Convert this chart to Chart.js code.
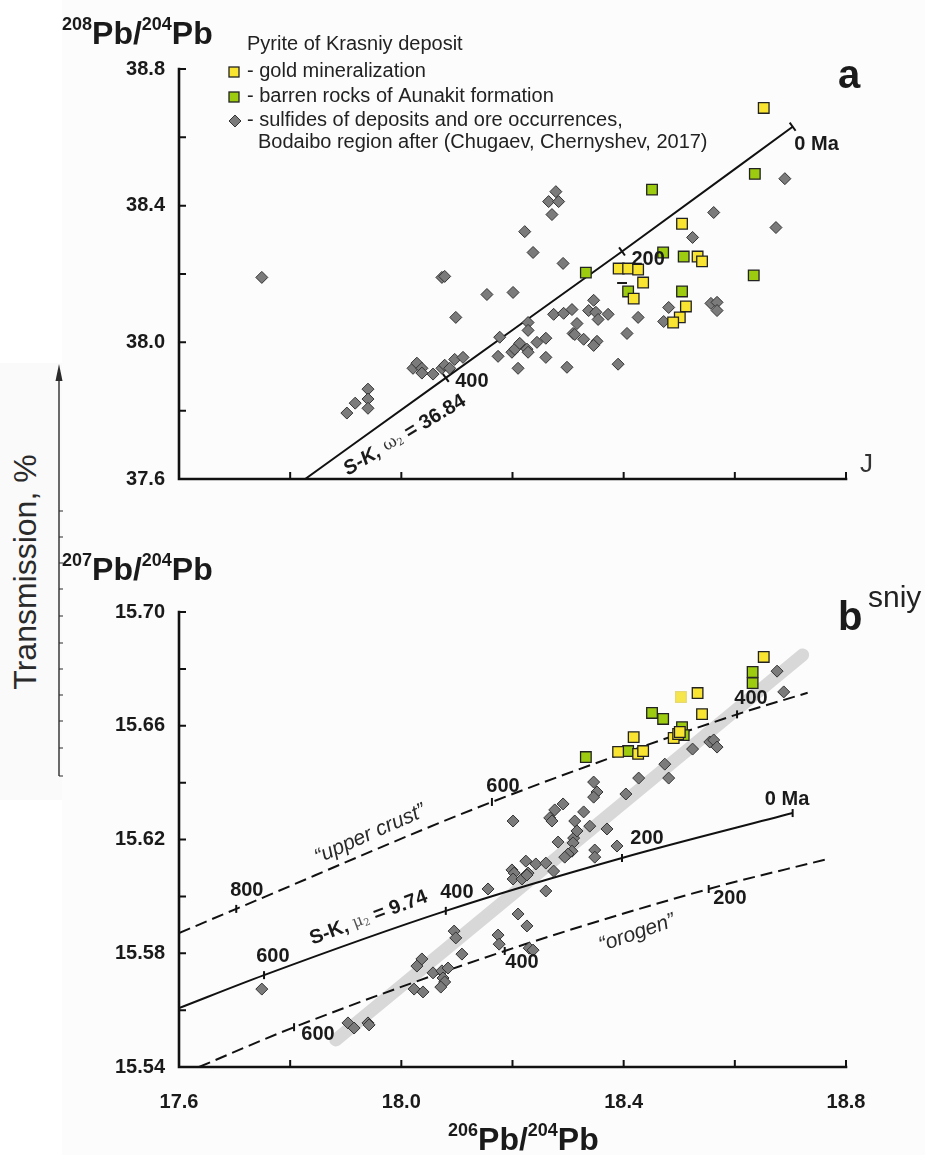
<!DOCTYPE html>
<html>
<head>
<meta charset="utf-8">
<script src="https://cdn.jsdelivr.net/npm/chart.js@4.4.1/dist/chart.umd.min.js"></script>
<style>
  body { margin: 0; background: #fff; }
  #page { position: relative; width: 925px; height: 1155px; overflow: hidden; }
  #panel { position: absolute; left: 62px; top: 0; width: 863px; height: 1155px; background: #fcfcfc; }
  #patch { position: absolute; left: 0; top: 363px; width: 62px; height: 437px; background: #fafafa; }
  canvas, svg { position: absolute; left: 0; top: 0; }
  #trans { position: absolute; left: 25px; top: 572px; font: 32px "Liberation Sans", Arial, sans-serif; color: #2a2a2a;
           white-space: nowrap; transform: translate(-50%, -50%) rotate(-90deg); }
</style>
</head>
<body>
<div id="page">
  <div id="panel"></div>
  <div id="patch"></div>
  <svg width="925" height="1155">
    <line x1="59" y1="378" x2="59" y2="776" stroke="#2b2b2b" stroke-width="1.4"/>
    <polygon points="59,364 55.5,381 62.5,381" fill="#2b2b2b"/>
    <path d="M59 511h4M59 537h4M59 563h4M59 589h4M59 616h4M59 643h4M59 669h4M59 695h4M59 721h4M59 748h4M59 776h4"
          stroke="#2b2b2b" stroke-width="1.2"/>
  </svg>
  <div id="trans">Transmission, %</div>
  <canvas id="top" width="925" height="1155"></canvas>
  <canvas id="bottom" width="925" height="1155"></canvas>
</div>
<script>
// ---- data: [206Pb/204Pb, 208Pb/204Pb] and [206Pb/204Pb, 207Pb/204Pb]
const topGold = [[18.652,38.686],[18.505,38.347],[18.533,38.251],[18.541,38.237],[18.391,38.216],[18.408,38.216],
  [18.426,38.213],[18.435,38.175],[18.418,38.128],[18.512,38.105],[18.501,38.073],[18.489,38.058]]
const topBarren = [[18.451,38.447],[18.636,38.493],[18.471,38.263],[18.508,38.251],[18.332,38.204],[18.408,38.149],
  [18.505,38.149],[18.634,38.196]]
const topSulfide = [[17.749,38.190],[17.902,37.793],[17.917,37.822],[17.940,37.863],[17.940,37.834],[17.940,37.807],
  [18.073,38.190],[18.078,38.193],[18.098,38.073],[18.154,38.140],[18.201,38.146],[18.222,38.324],[18.237,38.263],
  [18.265,38.412],[18.278,38.441],[18.283,38.412],[18.271,38.374],[18.291,38.231],[18.021,37.924],[18.028,37.939],
  [18.037,37.924],[18.037,37.910],[18.057,37.907],[18.073,37.924],[18.078,37.933],[18.087,37.924],[18.096,37.950],
  [18.111,37.956],[18.177,38.015],[18.174,37.959],[18.199,37.971],[18.204,37.980],[18.213,37.997],[18.226,37.980],
  [18.228,37.971],[18.210,37.924],[18.228,38.058],[18.228,38.035],[18.244,38.000],[18.260,38.012],[18.260,37.956],
  [18.274,38.082],[18.292,38.085],[18.307,38.096],[18.316,38.055],[18.309,38.026],[18.312,38.023],[18.298,37.927],
  [18.328,38.009],[18.346,38.123],[18.337,38.093],[18.350,38.088],[18.354,38.067],[18.352,38.003],[18.346,37.991],
  [18.372,38.082],[18.406,38.026],[18.390,37.936],[18.426,38.073],[18.562,38.380],[18.524,38.307],[18.690,38.479],
  [18.674,38.336],[18.557,38.114],[18.568,38.117],[18.568,38.093],[18.481,38.102],[18.472,38.061]]

const bottomGold = [[18.652,15.6842],[18.533,15.6715],[18.541,15.6641],[18.418,15.6560],[18.490,15.6557],
  [18.498,15.6571],[18.501,15.6578],[18.390,15.6508],[18.426,15.6501],[18.435,15.6511]]
const bottomGoldPale = [[18.503,15.6701]]
const bottomBarren = [[18.632,15.6789],[18.632,15.6750],[18.451,15.6645],[18.471,15.6624],[18.505,15.6595],
  [18.508,15.6567],[18.408,15.6511],[18.332,15.6490]]
const bottomSulfide = [[17.749,15.5674],[17.904,15.5555],[17.915,15.5537],[17.940,15.5555],[17.942,15.5548],
  [18.023,15.5674],[18.039,15.5664],[18.057,15.5731],[18.073,15.5738],[18.084,15.5748],[18.075,15.5713],
  [18.078,15.5699],[18.071,15.5681],[18.037,15.5780],[18.028,15.5755],[18.095,15.5878],[18.098,15.5854],
  [18.109,15.5797],[18.174,15.5864],[18.176,15.5832],[18.230,15.5818],[18.237,15.5811],[18.210,15.5938],
  [18.226,15.5896],[18.156,15.6026],[18.260,15.6019],[18.199,15.6093],[18.203,15.6082],[18.201,15.6061],
  [18.217,15.6061],[18.228,15.6082],[18.226,15.6075],[18.224,15.6124],[18.242,15.6114],[18.260,15.6117],
  [18.274,15.6089],[18.201,15.6265],[18.282,15.6191],[18.291,15.6325],[18.276,15.6304],[18.267,15.6276],
  [18.271,15.6265],[18.310,15.6205],[18.309,15.6188],[18.307,15.6159],[18.300,15.6149],[18.294,15.6138],
  [18.312,15.6265],[18.316,15.6230],[18.328,15.6297],[18.339,15.6247],[18.370,15.6237],[18.388,15.6177],
  [18.348,15.6163],[18.348,15.6138],[18.346,15.6402],[18.352,15.6367],[18.346,15.6349],[18.404,15.6360],
  [18.427,15.6416],[18.474,15.6465],[18.481,15.6416],[18.524,15.6518],[18.555,15.6543],[18.562,15.6550],
  [18.568,15.6525],[18.676,15.6792],[18.688,15.6719]]

// growth curves, read at the edge of the plot and at the marked ages
const skTop = [[17.827,37.600],[18.080,37.896],[18.397,38.266],[18.704,38.631]]      // edge, 400, 200, 0 Ma
const skBottom = [[17.600,15.5607],[17.753,15.5723],[18.080,15.5949],[18.397,15.6135],[18.704,15.6293]] // edge, 600, 400, 200, 0
const upperCrust = [[17.600,15.5871],[17.703,15.5956],[18.163,15.6332],[18.604,15.6640],[18.731,15.6716]] // edge, 800, 600, 400, end
const orogen = [[17.636,15.5400],[17.807,15.5540],[18.186,15.5808],[18.553,15.6026],[18.766,15.6131]]   // edge, 600, 400, 200, end
const trendBand = [[17.882,15.5495],[18.722,15.6849]]

const topAgeLabels = [['0 Ma',18.747,38.578],['200',18.444,38.242],['400',18.127,37.886],['\u2013',18.397,38.175]]
const bottomAgeLabels = [['0 Ma',18.694,15.6339],['200',18.442,15.6202],['400',18.100,15.6015],['600',17.769,15.5787],
  ['800',17.722,15.6019],['600',18.183,15.6388],['400',18.629,15.6697],
  ['400',18.217,15.5769],['200',18.591,15.5991],['600',17.850,15.5513]]

const FONT = '"Liberation Sans", Arial, sans-serif'
const B20 = 'bold 20px ' + FONT
const INK = '#1a1a1a'
const goldFill = '#f9e431', barrenFill = '#9ccb10', sulfFill = '#7b7b7b'

const pts = arr => arr.map(([x, y]) => ({ x, y }))

function txt(ctx, parts, x, y, o = {}) {
  ctx.save()
  let w = 0
  parts.forEach(p => { ctx.font = p.font; p.w = ctx.measureText(p.t).width; w += p.w })
  ctx.translate(x, y)
  ctx.rotate((o.angle || 0) * Math.PI / 180)
  ctx.textBaseline = o.baseline || 'alphabetic'
  let cx = o.align === 'center' ? -w / 2 : 0
  parts.forEach(p => {
    ctx.font = p.font
    ctx.fillStyle = p.color || INK
    ctx.fillText(p.t, cx, p.dy || 0)
    cx += p.w
  })
  ctx.restore()
}

function at(chart, x, y) {
  return [chart.scales.x.getPixelForValue(x), chart.scales.y.getPixelForValue(y)]
}

function frame(chart) {
  const { ctx, chartArea: a, scales: { x, y } } = chart
  ctx.save()
  ctx.strokeStyle = '#111'
  ctx.lineWidth = 2.6
  ctx.lineCap = 'square'
  ctx.beginPath()
  ctx.moveTo(a.left, a.top)
  ctx.lineTo(a.left, a.bottom)
  ctx.lineTo(a.right, a.bottom)
  ctx.stroke()
  ctx.lineWidth = 2
  ctx.lineCap = 'butt'
  ctx.beginPath()
  x.ticks.forEach(t => { const p = x.getPixelForValue(t.value); ctx.moveTo(p, a.bottom); ctx.lineTo(p, a.bottom - 7) })
  y.ticks.forEach(t => { const p = y.getPixelForValue(t.value); ctx.moveTo(a.left, p); ctx.lineTo(a.left + 7, p) })
  ctx.stroke()
  ctx.restore()
}

function pbTitle(ctx, sup1, x, y) {
  const S = 'bold 18px ' + FONT, L = 'bold 32px ' + FONT
  txt(ctx, [{ t: sup1, font: S, dy: -14 }, { t: 'Pb/', font: L }, { t: '204', font: S, dy: -14 }, { t: 'Pb', font: L }], x, y)
}

function square(ctx, x, y, fill) {
  ctx.fillStyle = fill
  ctx.fillRect(x - 5, y - 5, 10, 10)
  ctx.strokeStyle = '#222'
  ctx.lineWidth = 1.3
  ctx.strokeRect(x - 5, y - 5, 10, 10)
}

const topDecor = {
  id: 'topDecor',
  afterDatasetsDraw(chart) {
    const ctx = chart.ctx
    frame(chart)
    topAgeLabels.forEach(([t, x, y]) => {
      const [px, py] = at(chart, x, y)
      txt(ctx, [{ t, font: B20 }], px, py, { align: 'center', baseline: 'middle' })
    })
    const [sx, sy] = at(chart, 18.006, 37.728)
    txt(ctx, [{ t: 'S-K, ', font: 'italic bold 20px ' + FONT }, { t: '\u03c9', font: '17px "DejaVu Serif", serif', color: '#333' },
      { t: '2', font: '10px "DejaVu Serif", serif', dy: 4, color: '#333' }, { t: ' = 36.84', font: B20 }],
      sx, sy, { align: 'center', baseline: 'middle', angle: -31 })

    pbTitle(ctx, '208', 62, 44)
    txt(ctx, [{ t: 'a', font: 'bold 40px ' + FONT }], 838, 88)
    txt(ctx, [{ t: 'J', font: '26px ' + FONT, color: '#333' }], 860, 472)

    // legend
    const LF = '20px ' + FONT
    txt(ctx, [{ t: 'Pyrite of Krasniy deposit', font: LF, color: '#222' }], 247, 50)
    square(ctx, 234, 72, goldFill)
    txt(ctx, [{ t: '- gold mineralization', font: LF, color: '#222' }], 247, 77)
    square(ctx, 234, 97, barrenFill)
    txt(ctx, [{ t: '- barren rocks of Aunakit formation', font: LF, color: '#222' }], 247, 102)
    ctx.save()
    ctx.beginPath()
    ctx.moveTo(229, 121); ctx.lineTo(235, 115); ctx.lineTo(241, 121); ctx.lineTo(235, 127); ctx.closePath()
    ctx.fillStyle = sulfFill; ctx.fill()
    ctx.strokeStyle = '#333'; ctx.lineWidth = 1; ctx.stroke()
    ctx.restore()
    txt(ctx, [{ t: '- sulfides of deposits and ore occurrences,', font: LF, color: '#222' }], 247, 126)
    txt(ctx, [{ t: 'Bodaibo region after (Chugaev, Chernyshev, 2017)', font: LF, color: '#222' }], 258, 148)
  }
}

const bottomDecor = {
  id: 'bottomDecor',
  afterDatasetsDraw(chart) {
    const ctx = chart.ctx
    frame(chart)
    bottomAgeLabels.forEach(([t, x, y]) => {
      const [px, py] = at(chart, x, y)
      txt(ctx, [{ t, font: B20 }], px, py, { align: 'center', baseline: 'middle' })
    })
    let [px, py] = at(chart, 17.941, 15.5924)
    txt(ctx, [{ t: 'S-K, ', font: B20 }, { t: '\u03bc', font: '16px "DejaVu Serif", serif', color: '#555' },
      { t: '2', font: '10px "DejaVu Serif", serif', dy: 4, color: '#555' }, { t: ' = 9.74', font: B20 }],
      px, py, { align: 'center', baseline: 'middle', angle: -20.5 });
    [px, py] = at(chart, 17.944, 15.6219)
    txt(ctx, [{ t: '\u201cupper crust\u201d', font: 'italic 21px ' + FONT, color: '#2a2a2a' }], px, py, { align: 'center', baseline: 'middle', angle: -24 });
    [px, py] = at(chart, 18.424, 15.5871)
    txt(ctx, [{ t: '\u201corogen\u201d', font: 'italic 21px ' + FONT, color: '#2a2a2a' }], px, py, { align: 'center', baseline: 'middle', angle: -19 })

    pbTitle(ctx, '207', 62, 580)
    pbTitle(ctx, '206', 448, 1150)
    txt(ctx, [{ t: 'b', font: 'bold 40px ' + FONT }], 838, 630)
    txt(ctx, [{ t: 'sniy', font: '30px ' + FONT, color: '#222' }], 868, 607)
  }
}

const tickFont = { family: FONT, size: 20, weight: 'bold' }

function options(cfg) {
  return {
    responsive: false,
    animation: false,
    events: [],
    layout: { padding: { top: cfg.top, right: 79, left: 0, bottom: 0 } },
    plugins: { legend: { display: false }, tooltip: { enabled: false } },
    scales: {
      x: {
        type: 'linear', min: 17.6, max: 18.8,
        grid: { display: false, drawTicks: false }, border: { display: false },
        ticks: { stepSize: 0.2, display: cfg.xLabels, padding: 23, font: tickFont, color: INK, maxRotation: 0,
                 callback: (v, i) => i % 2 === 0 ? v.toFixed(1) : '' },
        afterFit: s => { s.height = cfg.xh }
      },
      y: {
        type: 'linear', min: cfg.ymin, max: cfg.ymax,
        grid: { display: false, drawTicks: false }, border: { display: false },
        ticks: { stepSize: cfg.ystep, padding: 14, font: tickFont, color: INK,
                 callback: (v, i) => i % 2 === 0 ? v.toFixed(cfg.dec) : '' },
        afterFit: s => { s.width = 179 }
      }
    }
  }
}

function markers(label, data, style, fill, order, border = '#222') {
  return {
    label, data: pts(data), order,
    pointStyle: style, pointRadius: style === 'rect' ? 7.5 : 6,
    pointBackgroundColor: fill, pointBorderColor: border, pointBorderWidth: style === 'rect' ? 1.3 : 1
  }
}

function curve(label, data, radii, rot, order, dash = []) {
  return {
    label, data: pts(data), order, showLine: true,
    borderColor: '#111', borderWidth: 2, borderDash: dash, fill: false,
    cubicInterpolationMode: 'monotone',
    pointStyle: 'line', pointRadius: radii, pointRotation: rot,
    pointBorderColor: '#111', pointBorderWidth: 2, pointBackgroundColor: '#111'
  }
}

new Chart(document.getElementById('top'), {
  type: 'scatter',
  data: {
    datasets: [
      curve('S-K, w2 = 36.84', skTop, [0, 5, 5, 5], 54, 5),
      markers('sulfides, Bodaibo region', topSulfide, 'rectRot', sulfFill, 3, '#333'),
      markers('barren rocks of Aunakit formation', topBarren, 'rect', barrenFill, 1),
      markers('gold mineralization', topGold, 'rect', goldFill, 0)
    ]
  },
  options: options({ top: 69, xh: 676, xLabels: false, ymin: 37.6, ymax: 38.8, ystep: 0.2, dec: 1 }),
  plugins: [topDecor]
})

new Chart(document.getElementById('bottom'), {
  type: 'scatter',
  data: {
    datasets: [
      { label: 'trend', data: pts(trendBand), order: 10, showLine: true, borderColor: '#d8d8d8', borderWidth: 13,
        borderCapStyle: 'round', pointRadius: 0 },
      curve('upper crust', upperCrust, [0, 4, 4, 4, 0], 90, 6, [12, 6]),
      curve('orogen', orogen, [0, 4, 4, 4, 0], 90, 6, [12, 6]),
      curve('S-K, mu2 = 9.74', skBottom, [0, 4, 4, 4, 4], 90, 5),
      markers('sulfides, Bodaibo region', bottomSulfide, 'rectRot', sulfFill, 3, '#333'),
      markers('barren rocks of Aunakit formation', bottomBarren, 'rect', barrenFill, 1),
      markers('gold mineralization', bottomGold, 'rect', goldFill, 0),
      markers('gold mineralization (pale)', bottomGoldPale, 'rect', '#f7e64a', 0, '#e6d873')
    ]
  },
  options: options({ top: 612, xh: 88, xLabels: true, ymin: 15.54, ymax: 15.70, ystep: 0.02, dec: 2 }),
  plugins: [bottomDecor]
})
</script>
</body>
</html>
